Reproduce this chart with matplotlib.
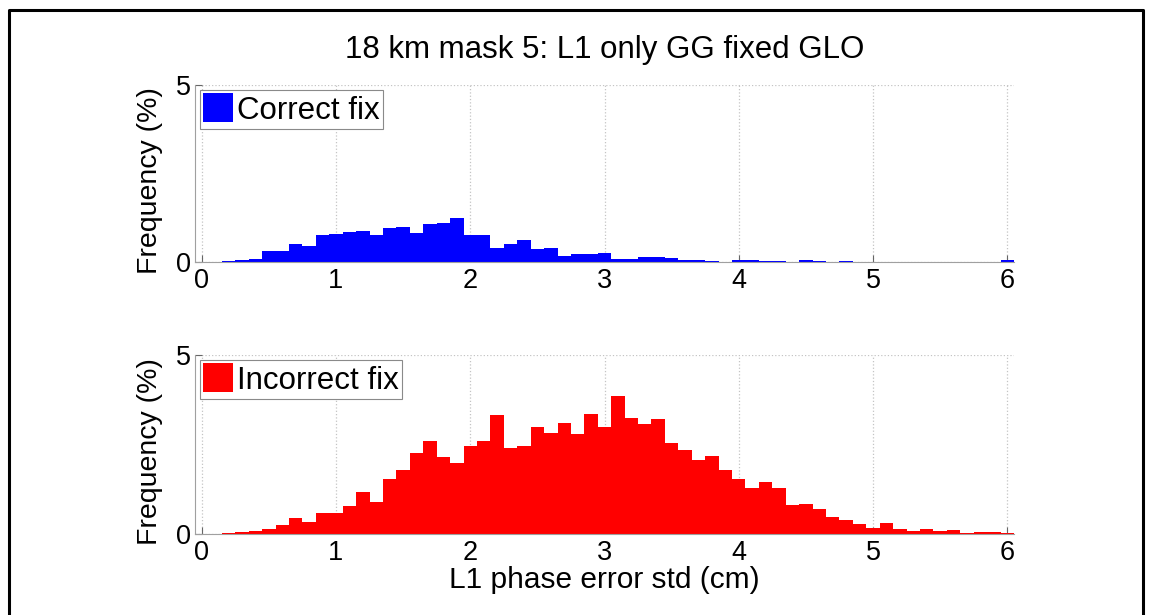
import numpy as np
import matplotlib
matplotlib.use("Agg")
import matplotlib.pyplot as plt
from matplotlib.lines import Line2D

plt.rcParams["font.family"] = ["Liberation Sans", "DejaVu Sans"]

# histogram bin centres (cm) and frequencies (%)
BIN_CENTRES = [round(0.1 * i, 1) for i in range(61)]

CORRECT = [
    0.00, 0.01, 0.02, 0.05, 0.08, 0.30, 0.30, 0.52, 0.46, 0.76,
    0.79, 0.86, 0.87, 0.77, 0.95, 0.98, 0.82, 1.07, 1.11, 1.25,
    0.77, 0.77, 0.40, 0.52, 0.61, 0.38, 0.40, 0.16, 0.22, 0.23,
    0.25, 0.08, 0.08, 0.15, 0.14, 0.11, 0.05, 0.05, 0.04, 0.01,
    0.06, 0.05, 0.04, 0.03, 0.01, 0.05, 0.04, 0.01, 0.04, 0.01,
    0.005, 0.005, 0.005, 0.005, 0.005, 0.005, 0.005, 0.005, 0.005, 0.005,
    0.05,
]

INCORRECT = [
    0.00, 0.01, 0.02, 0.05, 0.08, 0.13, 0.25, 0.44, 0.33, 0.58,
    0.58, 0.79, 1.18, 0.88, 1.55, 1.79, 2.27, 2.60, 2.16, 1.97,
    2.47, 2.60, 3.32, 2.41, 2.45, 3.00, 2.81, 3.10, 2.78, 3.36,
    2.98, 3.85, 3.25, 3.07, 3.20, 2.53, 2.35, 2.07, 2.18, 1.79,
    1.55, 1.28, 1.46, 1.28, 0.81, 0.84, 0.70, 0.48, 0.39, 0.28,
    0.18, 0.30, 0.14, 0.09, 0.15, 0.07, 0.11, 0.03, 0.06, 0.05,
    0.03,
]

TITLE = "18 km mask 5: L1 only GG fixed GLO"
XLABEL = "L1 phase error std (cm)"
YLABEL = "Frequency (%)"
XTICKS = [0, 1, 2, 3, 4, 5, 6]
YTICKS = [0, 5]

FS = 22.5      # title / legend
FS_X = 21.5    # x label
FS_TICK = 19.5
FS_Y = 20.5    # rotated y label (source image is a little squashed vertically)
W, H = 1151, 615


def panel(ax, values, color, label):
    ax.bar(BIN_CENTRES, values, width=0.1, color=color, edgecolor=color,
           linewidth=0, label=label)
    ax.set_xlim(-0.05, 6.05)
    ax.set_ylim(0, 5)
    ax.set_xticks(XTICKS)
    ax.set_yticks(YTICKS)
    ax.tick_params(direction="in", length=5, color="#666666",
                   labelsize=FS_TICK, pad=3)
    ax.tick_params(axis="x", pad=4)
    ax.grid(True, ls=":", color="#c4c4c4", lw=0.9)
    ax.set_axisbelow(True)
    for s in ("top", "right"):
        ax.spines[s].set_visible(False)
    for s in ("left", "bottom"):
        ax.spines[s].set_color("#a0a0a0")
        ax.spines[s].set_linewidth(0.8)
    ax.set_ylabel(YLABEL, fontsize=FS_Y)
    ax.yaxis.set_label_coords(-0.039, 0.46)
    leg = ax.legend(loc="upper left", fontsize=FS, handlelength=0.95,
                    handleheight=1.05, handletextpad=0.12, borderpad=0.12,
                    borderaxespad=0.15, fancybox=False, framealpha=1)
    leg.get_frame().set_edgecolor("#8a8a8a")
    leg.get_frame().set_linewidth(0.8)


def main():
    fig = plt.figure(figsize=(W / 100, H / 100), dpi=100)
    left, width = 195 / W, 819 / W
    ax1 = fig.add_axes([left, 1 - 262 / H, width, 177 / H])
    ax2 = fig.add_axes([left, 1 - 534 / H, width, 179 / H])

    panel(ax1, CORRECT, "#0000ff", "Correct fix")
    panel(ax2, INCORRECT, "#ff0000", "Incorrect fix")
    ax2.set_xlabel(XLABEL, fontsize=FS_X, labelpad=0.5)

    fig.text(604.5 / W, 1 - 50 / H, TITLE, fontsize=FS, ha="center", va="center")

    # black frame of the original screenshot (bottom edge cut off)
    fx = [9 / W, 9 / W, 1143 / W, 1143 / W]
    fy = [-0.1, 1 - 10 / H, 1 - 10 / H, -0.1]
    fig.add_artist(Line2D(fx, fy, color="black", lw=2.2,
                          transform=fig.transFigure))

    fig.savefig("out.png", dpi=100)


if __name__ == "__main__":
    main()
